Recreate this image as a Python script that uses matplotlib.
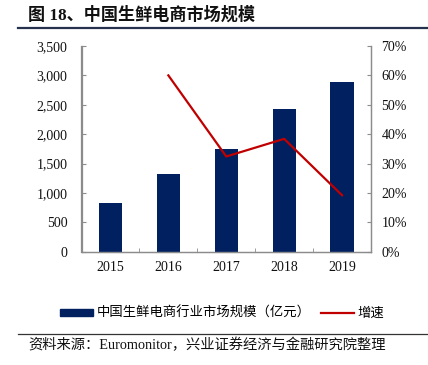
import numpy as np
import matplotlib.pyplot as plt
from matplotlib.patches import Rectangle
from matplotlib.lines import Line2D
from matplotlib.ticker import FuncFormatter

years = ["2015", "2016", "2017", "2018", "2019"]
market_size = [824, 1318, 1749, 2425, 2885]   # 亿元
growth = [np.nan, 60.0, 32.4, 38.4, 19.2]     # %

NAVY = "#002060"
RED = "#C00000"
GRAY = "#8c8c8c"
SERIF = ["Liberation Serif", "Noto Sans CJK SC"]
CJK = ["Noto Sans CJK SC", "DejaVu Sans"]

fig = plt.figure(figsize=(4.28, 3.65), dpi=100)
fig.patch.set_facecolor("white")

# title and rules
fig.text(28 / 428, 1 - 15 / 365, "图 18、中国生鲜电商市场规模", family=SERIF,
         fontsize=12.3, fontweight="bold", va="center", ha="left", color="#111111")
fig.add_artist(Line2D([18 / 428, 1], [1 - 27.5 / 365] * 2, color="#26324d", lw=1.6))
fig.add_artist(Line2D([18 / 428, 1], [1 - 334 / 365] * 2, color="#333333", lw=0.9))
fig.text(28 / 428, 1 - 345 / 365, "资料来源：Euromonitor，兴业证券经济与金融研究院整理",
         family=SERIF, fontsize=10.3, va="center", ha="left", color="#111111")

ax = fig.add_axes([81.5 / 428, 1 - 251.7 / 365, (371 - 81.5) / 428, (251.7 - 46) / 365])
x = np.arange(len(years))
ax.bar(x, market_size, width=0.4, color=NAVY, zorder=2)
ax.set_xlim(-0.5, len(years) - 0.5)
ax.set_ylim(0, 3500)
ax.set_yticks(np.arange(0, 3501, 500))
ax.yaxis.set_major_formatter(FuncFormatter(lambda v, p: f"{int(v):,}"))
ax.set_xticks(x)
ax.set_xticklabels(years)
ax.set_xticks(np.arange(-0.5, len(years), 1), minor=True)
ax.tick_params(axis="x", which="major", length=0, pad=7)
ax.tick_params(axis="x", which="minor", direction="in", length=3, color=GRAY)
ax.tick_params(axis="y", direction="in", length=3, color=GRAY, pad=10)

ax2 = ax.twinx()
ax2.plot(x, growth, color=RED, lw=1.6, zorder=3)
ax2.set_ylim(0, 70)
ax2.set_yticks(np.arange(0, 71, 10))
ax2.yaxis.set_major_formatter(FuncFormatter(lambda v, p: f"{int(v)}%"))
ax2.tick_params(axis="y", direction="in", length=3, color=GRAY, pad=7.5)

for a in (ax, ax2):
    a.spines["top"].set_visible(False)
    for s in ("left", "right", "bottom"):
        a.spines[s].set_color(GRAY)
        a.spines[s].set_linewidth(0.9)
    for lab in a.get_xticklabels() + a.get_yticklabels():
        lab.set_family(SERIF)
        lab.set_fontsize(10)
        lab.set_color("#111111")

handles = [Rectangle((0, 0), 1, 1, color=NAVY), Line2D([0], [0], color=RED, lw=1.6)]
labels = ["中国生鲜电商行业市场规模（亿元）", "增速"]
leg = fig.legend(handles, labels, loc="center", bbox_to_anchor=(222 / 428, 1 - 313 / 365),
                 ncol=2, frameon=False, prop={"family": CJK, "size": 9.6},
                 handlelength=2.5, handleheight=0.45, handletextpad=0.25, columnspacing=0.8)

fig.savefig("out.png", dpi=100)
